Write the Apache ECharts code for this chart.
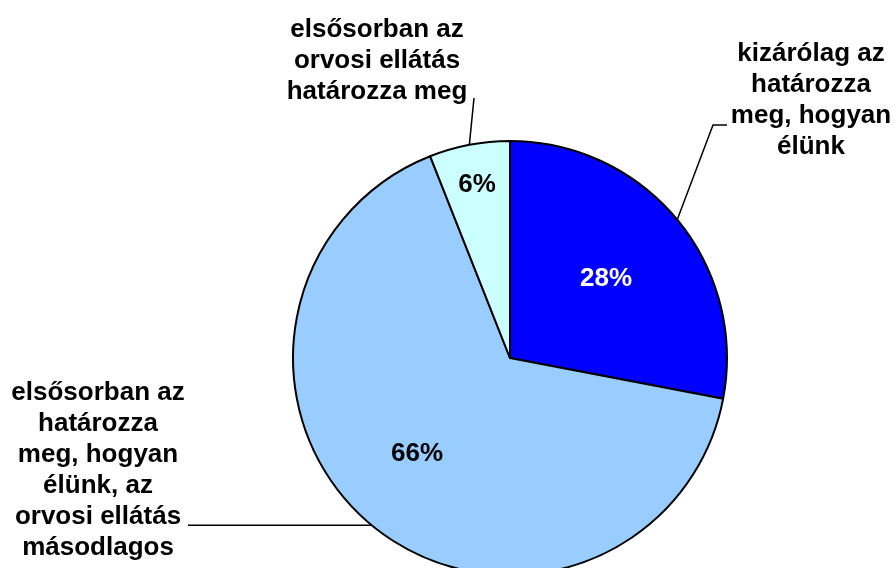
<!DOCTYPE html>
<html>
<head>
<meta charset="utf-8">
<script src="https://cdn.jsdelivr.net/npm/echarts@6/dist/echarts.min.js"></script>
<style>
  html, body { margin: 0; padding: 0; background: #fff; }
  #chart { width: 895px; height: 568px; }
</style>
</head>
<body>
<div id="chart"></div>
<script>
// data
var categories = [
  'kizárólag az\nhatározza\nmeg, hogyan\nélünk',
  'elsősorban az\nhatározza\nmeg, hogyan\nélünk, az\norvosi ellátás\nmásodlagos',
  'elsősorban az\norvosi ellátás\nhatározza meg'
];
var shares = [28, 66, 6];
var sliceColors = ['#0000ff', '#99ccff', '#ccffff'];
var percentColors = ['#ffffff', '#000000', '#000000'];

var labelFont = {
  fontFamily: 'Liberation Sans, Arial, sans-serif',
  fontWeight: 'bold',
  fontSize: 26,
  lineHeight: 31
};

// where the labels sit (label placement only)
var percentPos = [[606, 279], [417, 454], [477, 185]];
var namePos = [[811, 38], [98, 377], [377, 14]];

var pieData = shares.map(function (v, i) {
  return {
    name: categories[i],
    value: v,
    itemStyle: { color: sliceColors[i] },
    label: { color: percentColors[i] }
  };
});

var nameData = shares.map(function (v, i) {
  return { name: categories[i], value: v };
});

var chart = echarts.init(document.getElementById('chart'));

var option = {
  backgroundColor: '#fff',
  animation: false,
  series: [{
    // the slices + percentages
    type: 'pie',
    center: [510, 358],
    radius: 217,
    startAngle: 90,
    clockwise: true,
    avoidLabelOverlap: false,
    itemStyle: { borderColor: '#000', borderWidth: 2 },
    label: Object.assign({
      position: 'inside',
      formatter: '{c}%'
    }, labelFont),
    labelLine: { show: false },
    labelLayout: function (params) {
      var p = percentPos[params.dataIndex];
      return { x: p[0], y: p[1], align: 'center', verticalAlign: 'middle' };
    },
    emphasis: { disabled: true },
    data: pieData
  }, {
    // the category names with leader lines
    type: 'pie',
    center: [510, 358],
    radius: 217,
    startAngle: 90,
    clockwise: true,
    silent: true,
    avoidLabelOverlap: false,
    itemStyle: { color: 'transparent', borderWidth: 0 },
    label: Object.assign({
      position: 'outside',
      formatter: '{b}',
      color: '#000',
      align: 'center'
    }, labelFont),
    labelLine: {
      show: true,
      length: 20,
      length2: 10,
      lineStyle: { color: '#000', width: 1.5 }
    },
    labelLayout: function (params) {
      var i = params.dataIndex;
      var p = namePos[i];
      var s = params.labelLinePoints ? params.labelLinePoints[0] : [510, 358];
      var pts;
      if (i === 0) {
        pts = [s, [713, 125], [727, 125]];
      } else if (i === 1) {
        pts = [s, [280, s[1]], [188, s[1]]];
      } else {
        pts = [s, [(s[0] + 474) / 2, (s[1] + 98) / 2], [474, 98]];
      }
      return {
        x: p[0], y: p[1],
        align: 'center', verticalAlign: 'top',
        labelLinePoints: pts
      };
    },
    emphasis: { disabled: true },
    data: nameData
  }]
};

chart.setOption(option);
</script>
</body>
</html>
